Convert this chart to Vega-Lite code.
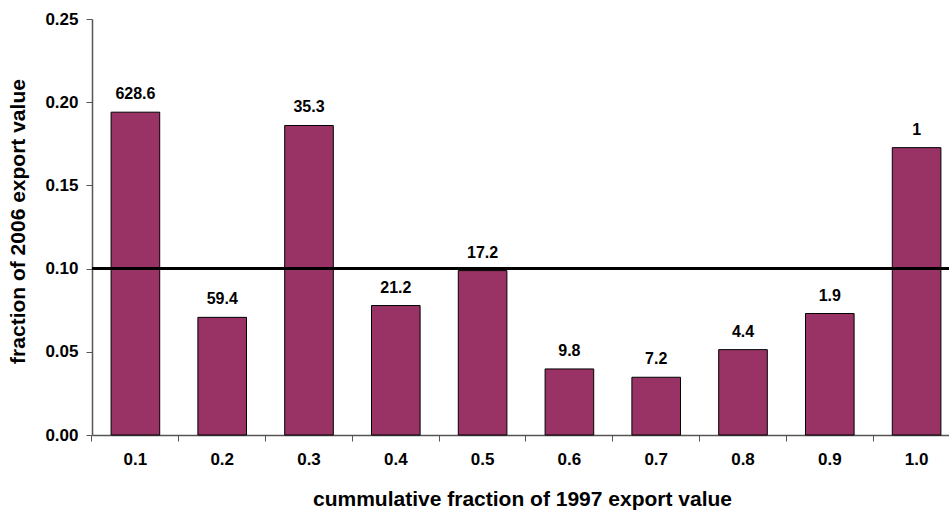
{
  "$schema": "https://vega.github.io/schema/vega-lite/v6.json",
  "autosize": {"type": "none"},
  "width": 857,
  "height": 416,
  "padding": {"left": 92, "top": 19, "right": 0, "bottom": 75},
  "background": "white",
  "config": {
    "view": {"stroke": null},
    "font": "Liberation Sans",
    "axis": {"labelFont": "Liberation Sans", "titleFont": "Liberation Sans", "labelFontWeight": "bold", "titleFontWeight": "bold", "labelColor": "black", "titleColor": "black", "domainColor": "#555555", "tickColor": "#555555", "grid": false}
  },
  "data": {
    "values": [
      {"bin": "0.1", "fraction": 0.194, "label": "628.6"},
      {"bin": "0.2", "fraction": 0.0707, "label": "59.4"},
      {"bin": "0.3", "fraction": 0.186, "label": "35.3"},
      {"bin": "0.4", "fraction": 0.0778, "label": "21.2"},
      {"bin": "0.5", "fraction": 0.0988, "label": "17.2"},
      {"bin": "0.6", "fraction": 0.0397, "label": "9.8"},
      {"bin": "0.7", "fraction": 0.0347, "label": "7.2"},
      {"bin": "0.8", "fraction": 0.0513, "label": "4.4"},
      {"bin": "0.9", "fraction": 0.073, "label": "1.9"},
      {"bin": "1.0", "fraction": 0.1727, "label": "1"}
    ]
  },
  "encoding": {
    "x": {
      "field": "bin", "type": "ordinal", "sort": null,
      "scale": {"range": [0, 868], "paddingInner": 0.44, "paddingOuter": 0.22},
      "axis": {"title": "cummulative fraction of 1997 export value", "labelAngle": 0, "bandPosition": -0.3929, "labelFontSize": 17, "labelPadding": 10, "tickSize": 6, "titleFontSize": 21, "titleBaseline": "alphabetic", "titleY": 70, "titleX": 430, "titleAnchor": "middle", "domainWidth": 1.5}
    },
    "y": {
      "field": "fraction", "type": "quantitative",
      "scale": {"domain": [0, 0.25], "nice": false},
      "axis": {"title": "fraction of 2006 export value", "values": [0, 0.05, 0.1, 0.15, 0.2, 0.25], "format": ".2f", "labelFontSize": 17, "labelPadding": 8, "tickSize": 6, "titleFontSize": 21, "titleBaseline": "alphabetic", "titleX": -68, "titleY": 202, "titleAnchor": "middle", "domainWidth": 1.5}
    }
  },
  "layer": [
    {"mark": {"type": "bar", "color": "#993366", "stroke": "black", "strokeWidth": 1}},
    {"mark": {"type": "text", "baseline": "bottom", "dy": -10, "fontSize": 16, "fontWeight": "bold", "color": "black"},
     "encoding": {"text": {"field": "label"}}},
    {"mark": {"type": "rule", "color": "black", "strokeWidth": 2.5},
     "encoding": {"y": {"datum": 0.1}, "x": null}}
  ]
}
